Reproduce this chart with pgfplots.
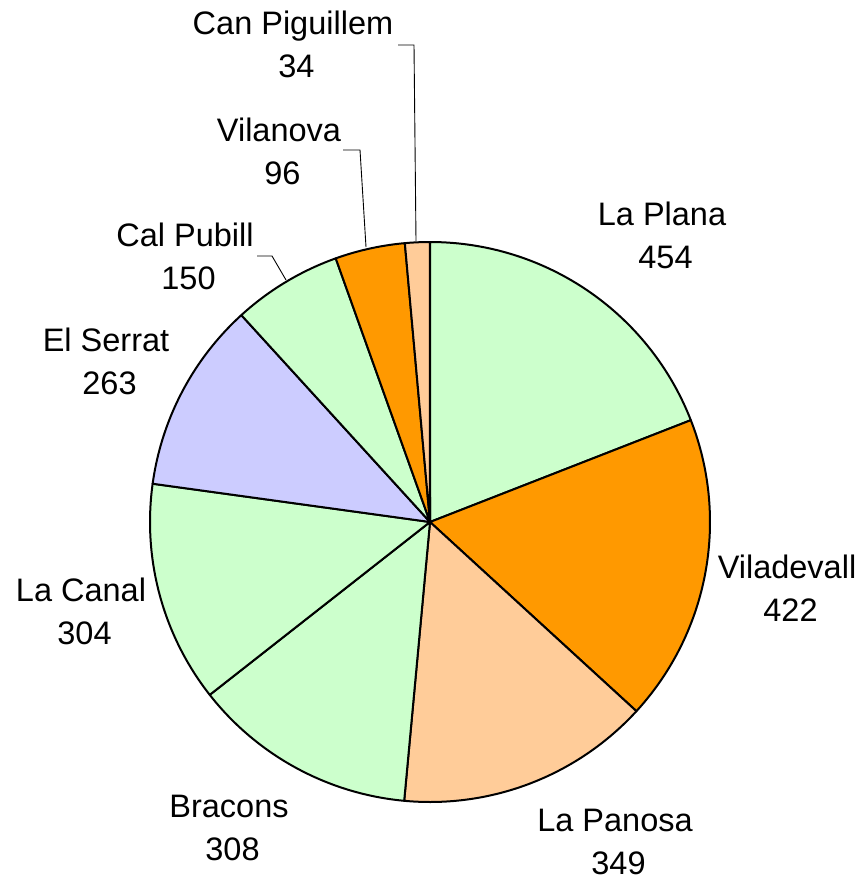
\documentclass[border=0pt]{standalone}
\usepackage{pgfplots}
\pgfplotsset{compat=1.18}
\usepackage{fontspec}
\setmainfont{Liberation Sans}
\definecolor{cgreen}{HTML}{CCFFCC}
\definecolor{corange}{HTML}{FF9900}
\definecolor{cpeach}{HTML}{FFCC99}
\definecolor{clav}{HTML}{CCCCFF}
% values, clockwise from the top
\def\vA{454}% La Plana
\def\vB{422}% Viladevall
\def\vC{349}% La Panosa
\def\vD{308}% Bracons
\def\vE{304}% La Canal
\def\vF{263}% El Serrat
\def\vG{150}% Cal Pubill
\def\vH{96}% Vilanova
\def\vI{34}% Can Piguillem
\pgfmathsetmacro\total{\vA+\vB+\vC+\vD+\vE+\vF+\vG+\vH+\vI}
\pgfmathsetmacro\aA{90}
\pgfmathsetmacro\aB{\aA-360*(\vA/\total)}
\pgfmathsetmacro\aC{\aB-360*(\vB/\total)}
\pgfmathsetmacro\aD{\aC-360*(\vC/\total)}
\pgfmathsetmacro\aE{\aD-360*(\vD/\total)}
\pgfmathsetmacro\aF{\aE-360*(\vE/\total)}
\pgfmathsetmacro\aG{\aF-360*(\vF/\total)}
\pgfmathsetmacro\aH{\aG-360*(\vG/\total)}
\pgfmathsetmacro\aI{\aH-360*(\vH/\total)}
\pgfmathsetmacro\aJ{\aI-360*(\vI/\total)}
\newcommand\slice[3]{%
  \addplot[fill=#3, draw=black, line width=2pt, line join=round, domain=#2:#1, samples=80, variable=\t]
   ({430+280*cos(\t)},{522-280*sin(\t)}) -- (axis cs:430,522) -- cycle;}
\tikzset{lbl/.style={align=center, font=\fontsize{32.5}{43}\selectfont, inner sep=0pt}}
\newcommand\num[1]{\hspace*{7pt}#1}
\begin{document}
\begin{tikzpicture}
\begin{axis}[
  width=861pt, height=880pt, scale only axis,
  xmin=0, xmax=861, ymin=0, ymax=880, y dir=reverse,
  hide axis, clip=false,
]
\path (rel axis cs:0,0) rectangle (rel axis cs:1,1);
\slice{\aA}{\aB}{cgreen}
\slice{\aB}{\aC}{corange}
\slice{\aC}{\aD}{cpeach}
\slice{\aD}{\aE}{cgreen}
\slice{\aE}{\aF}{cgreen}
\slice{\aF}{\aG}{clav}
\slice{\aG}{\aH}{cgreen}
\slice{\aH}{\aI}{corange}
\slice{\aI}{\aJ}{cpeach}
% leader lines
\addplot[black, line width=0.9pt] coordinates {(257,256) (272,256) (286,280)};
\addplot[black, line width=0.9pt] coordinates {(343,150) (360,150) (366,247)};
\addplot[black, line width=0.9pt] coordinates {(398,45) (414,45) (416,241)};
% labels
\node[lbl] at (axis cs:662,235) {La Plana\\\num{454}};
\node[lbl] at (axis cs:787,588) {Viladevall\\\num{422}};
\node[lbl] at (axis cs:615,842) {La Panosa\\\num{349}};
\node[lbl] at (axis cs:229,828) {Bracons\\\num{308}};
\node[lbl] at (axis cs:81,611) {La Canal\\\num{304}};
\node[lbl] at (axis cs:106,361) {El Serrat\\\num{263}};
\node[lbl] at (axis cs:185,256) {Cal Pubill\\\num{150}};
\node[lbl] at (axis cs:279,151) {Vilanova\\\num{96}};
\node[lbl] at (axis cs:293,44) {Can Piguillem\\\num{34}};
\end{axis}
\end{tikzpicture}
\end{document}
